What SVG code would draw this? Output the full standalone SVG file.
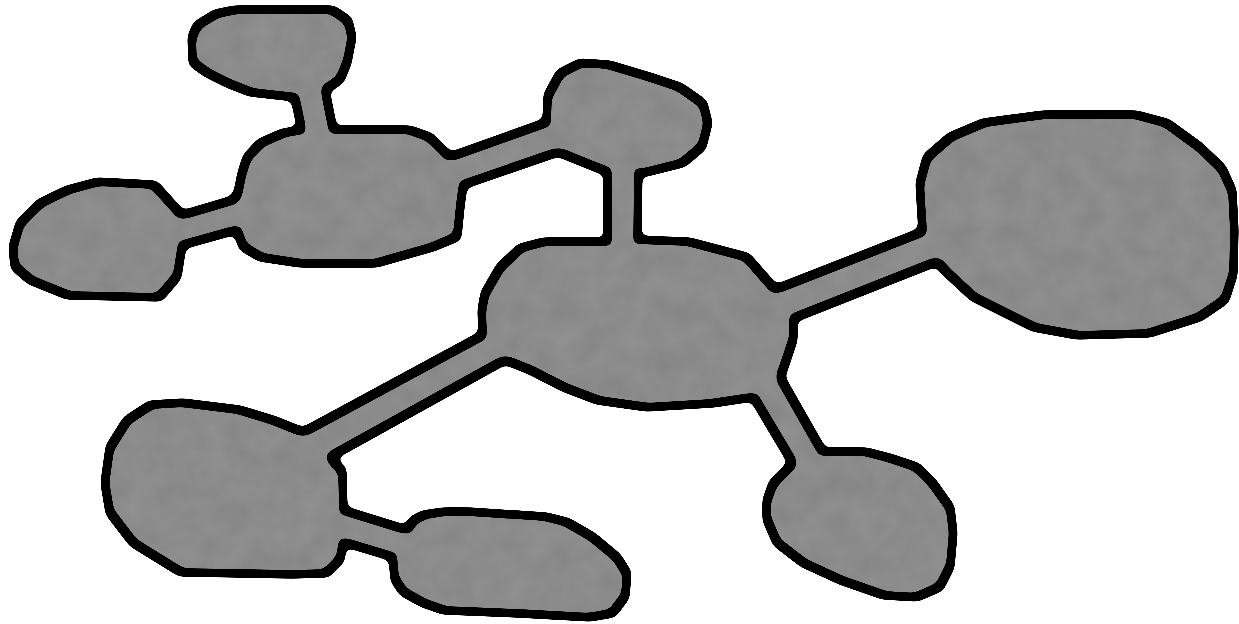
<svg xmlns="http://www.w3.org/2000/svg" width="1239" height="624" viewBox="0 0 1239 624">
<style>
.ink{fill:#000;stroke:#000;stroke-width:9;stroke-linejoin:round}
.paper{fill:#8b8b8b;stroke:none}
</style>
<defs>
<filter id="smooth" x="-5%" y="-5%" width="110%" height="110%" color-interpolation-filters="sRGB">
<feGaussianBlur in="SourceGraphic" stdDeviation="3" result="b"/>
<feColorMatrix in="b" type="matrix" values="0 0 0 0 0  0 0 0 0 0  0 0 0 0 0  0 0 0 24 -11"/>
</filter>
<filter id="paperfx" x="-5%" y="-5%" width="110%" height="110%" color-interpolation-filters="sRGB">
<feMorphology in="SourceGraphic" operator="erode" radius="4" result="e"/>
<feGaussianBlur in="e" stdDeviation="3" result="b"/>
<feColorMatrix in="b" type="matrix" values="0 0 0 0 0  0 0 0 0 0  0 0 0 0 0  0 0 0 24 -11" result="mask"/>
<feTurbulence type="fractalNoise" baseFrequency="0.04" numOctaves="3" seed="7" result="n"/>
<feColorMatrix in="n" type="matrix" values="0.06 0 0 0 0.515  0.06 0 0 0 0.515  0.06 0 0 0 0.515  0 0 0 0 1" result="tex"/>
<feComposite in="tex" in2="mask" operator="in"/>
</filter>
</defs>
<rect width="1239" height="624" fill="#fff"/>
<g class="ink" filter="url(#smooth)">
<g id="shapes">
<g id="connectors">
<polygon points="293,88 323,80 335,140 304,140"/>
<polygon points="243,197 247,227 172,248 172,218"/>
<polygon points="441,160 454,188 567,149 556,119"/>
<polygon points="608,162 638,162 637,250 608,252"/>
<polygon points="766,293 784,322 946,258 932,228"/>
<polygon points="514,355 492,330 294,437 321,462"/>
<polygon points="775,368 748,388 798,472 828,461"/>
<polygon points="333,507 333,539 403,560 417,533"/>
</g>
<g id="node-top-left"><path d="M192,37 L197,25 L215,14 L235,10 L333,10 L348,20 L352,37 L347,63 L340,80 L325,90 L310,95 L295,97 L277,95 L250,92 L227,83 L207,73 L193,63 Z"/></g>
<g id="node-upper-left"><path d="M302,130 L283,133 L260,143 L247,157 L242,173 L238,193 L233,200 L237,230 L243,247 L260,257 L300,263 L377,263 L433,247 L457,237 L460,207 L463,185 L450,157 L430,137 L410,130 L333,130 Z"/></g>
<g id="node-left"><path d="M182,215 L155,185 L117,183 L97,182 L67,190 L40,203 L20,223 L13,247 L15,267 L30,280 L67,295 L160,297 L177,277 L182,245 Z"/></g>
<g id="node-top-middle"><path d="M547,122 L548,95 L560,73 L580,63 L610,65 L650,77 L680,87 L703,103 L708,123 L702,147 L683,163 L647,172 L608,172 L590,165 L558,152 Z"/></g>
<g id="node-center"><path d="M608,242 L637,240 L690,242 L747,257 L775,289 L793,318 L793,340 L783,370 L780,377 L753,397 L713,403 L647,407 L597,400 L563,387 L530,370 L505,360 L483,335 L482,310 L485,293 L500,267 L520,248 L543,242 Z"/></g>
<g id="node-right"><path d="M923,232 L922,217 L920,183 L927,157 L950,137 L983,123 L1043,115 L1137,115 L1167,123 L1200,147 L1222,168 L1232,190 L1234,230 L1233,275 L1225,300 L1200,317 L1150,333 L1077,335 L1033,327 L973,297 L947,273 L937,262 Z"/></g>
<g id="node-bottom-right"><path d="M823,452 L867,452 L890,458 L917,467 L933,483 L950,507 L953,533 L950,567 L940,587 L917,597 L883,595 L840,580 L803,563 L777,543 L767,520 L767,500 L773,483 L793,463 Z"/></g>
<g id="node-bottom-left"><path d="M150,405 L183,403 L240,410 L273,420 L303,432 L330,457 L342,470 L343,510 L343,542 L340,560 L327,573 L293,574 L180,572 L133,543 L110,513 L105,483 L110,447 L127,420 Z"/></g>
<g id="node-bottom-middle"><path d="M407,530 L413,520 L423,515 L443,512 L470,512 L547,517 L567,522 L593,537 L617,557 L627,573 L625,597 L613,613 L590,617 L517,613 L443,610 L423,603 L403,592 L395,580 L393,557 Z"/></g>
</g>
</g>
<use href="#shapes" class="paper" filter="url(#paperfx)"/>
</svg>
